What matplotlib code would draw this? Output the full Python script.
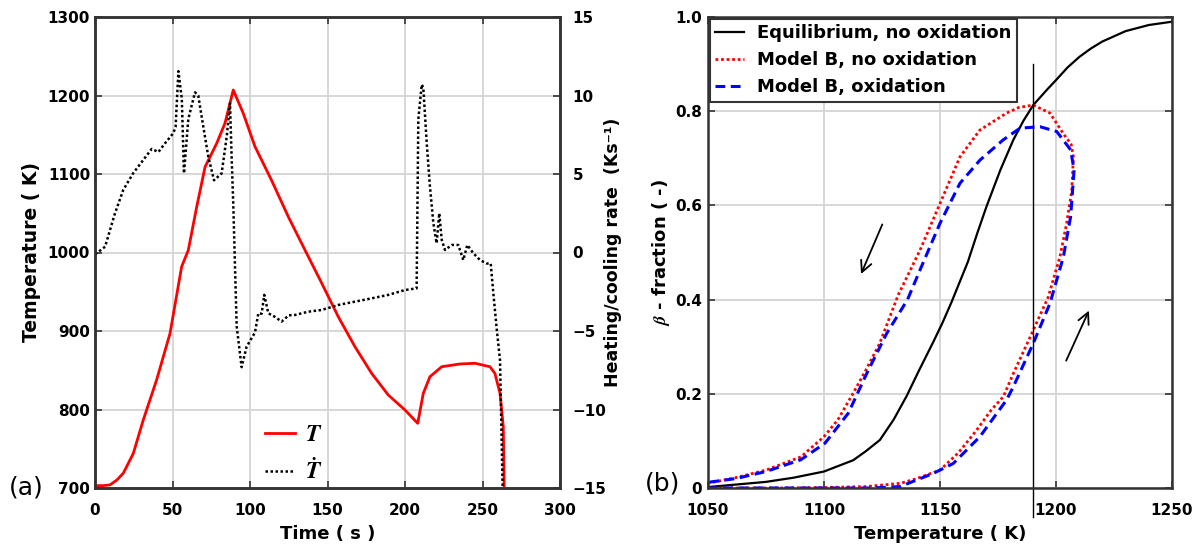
import matplotlib
matplotlib.use("Agg")
import matplotlib.pyplot as plt
from matplotlib.lines import Line2D

plt.rcParams['font.family'] = ['DejaVu Sans']
plt.rcParams['font.weight'] = 'bold'
plt.rcParams['mathtext.fontset'] = 'stix'

# ---------------- data: panel (a) ----------------
time_T = [0, 5, 9.7, 14, 18.3, 24.7, 31.2, 39.8, 48.4, 55.9, 60.2, 65.6, 71, 78.5, 83.9, 89.2,
          95.7, 103.2, 113.9, 124.7, 135.5, 146.3, 157, 167.7, 178.5, 189.2, 200, 208.2,
          211.8, 216.1, 223.7, 235.5, 245.2, 254.8, 258, 261.3, 263.4, 264]
temp_T = [703, 703, 704, 710, 719, 744, 787, 838, 897, 982, 1003, 1058, 1109, 1139, 1165, 1207,
          1177, 1135, 1092, 1045.6, 1003, 960.8, 918, 880, 846, 818.5, 799.4, 782.4,
          820.6, 841.8, 854.5, 858, 858.9, 854.5, 846, 820.6, 778, 700]

time_rate = [0, 1, 6.5, 12.9, 18.3, 24.7, 31.2, 36.6, 40.9, 45.2, 50.5, 52, 53.8, 56, 57.4, 60.2,
             64.5, 66.6, 69.9, 73.1, 76.8, 81.7, 85, 87.1, 88.2, 89.2, 91.4, 94.6, 97.8, 103.2,
             105.4, 107.5, 109.2, 111.8, 116.1, 120.4, 125, 129, 137.6, 146.3, 157, 167.7,
             178.5, 189.2, 200, 207.5, 208.6, 210.8, 211.8, 214, 216.1, 218.3, 220.4, 222.1,
             223.7, 225.8, 230.1, 234.4, 237.6, 240.2, 244.1, 248.4, 252.7, 255.3, 257, 259.2,
             261.3, 261.7, 263]
rate = [0, -0.05, 0.37, 2.5, 4.0, 5.06, 5.9, 6.6, 6.4, 6.96, 7.6, 8.0, 11.55, 9.8, 5.04, 8.5,
        10.2, 10.0, 8.0, 6.1, 4.6, 5.04, 7.4, 9.5, 5.9, 3.1, -4.7, -7.3, -6.0, -5.1,
        -3.87, -3.9, -2.7, -3.87, -4.1, -4.4, -4.0, -3.98, -3.77, -3.66, -3.34, -3.13,
        -2.92, -2.7, -2.39, -2.28, 8.5, 10.7, 10.5, 7.0, 4.2, 1.86, 0.59, 2.5,
        0.8, 0.16, 0.48, 0.48, -0.48, 0.48, -0.05, -0.48, -0.7, -0.7, -2.6, -4.9,
        -6.85, -8.8, -15]

# ---------------- data: panel (b) ----------------
eq_temp = [1050, 1075, 1087, 1100, 1112.6, 1118, 1124.1, 1130, 1135.6, 1141, 1147.1, 1151, 1155,
           1162, 1166, 1170, 1176, 1181.6, 1186, 1190.2, 1196, 1200, 1205, 1210, 1215, 1220,
           1230, 1240, 1250]
eq_beta = [0.002, 0.013, 0.022, 0.035, 0.059, 0.078, 0.102, 0.145, 0.195, 0.25, 0.31, 0.35,
           0.395, 0.48, 0.54, 0.597, 0.675, 0.739, 0.78, 0.813, 0.845, 0.866, 0.893, 0.915,
           0.933, 0.948, 0.970, 0.983, 0.990]

noox_temp = [1050, 1080, 1100, 1118, 1133, 1140, 1150, 1158, 1165.8, 1172, 1177.3, 1181.6, 1186,
             1190.2, 1196.7, 1201.7, 1204.6, 1206.8, 1207.5, 1206.5, 1203.2, 1197.4, 1190.2,
             1184, 1178.7, 1167.2, 1158.6, 1150, 1141.4, 1132, 1124, 1118, 1113, 1106, 1100,
             1090, 1075, 1062, 1050]
noox_beta = [0, 0, 0.001, 0.003, 0.01, 0.02, 0.038, 0.075, 0.123, 0.165, 0.194, 0.243, 0.29,
             0.335, 0.406, 0.491, 0.562, 0.632, 0.703, 0.73, 0.752, 0.796, 0.813,
             0.808, 0.796, 0.76, 0.703, 0.604, 0.505, 0.41, 0.307, 0.25, 0.205, 0.145, 0.109,
             0.066, 0.038, 0.022, 0.01]

ox_temp = [1050, 1120, 1132.8, 1147.1, 1155.7, 1167.2, 1178.7, 1181.6, 1190.2, 1197.4, 1203.2,
           1206.3, 1207.8, 1206.3, 1200.3, 1193.1, 1184.5, 1177.2, 1167.2, 1158.6, 1150, 1141.4,
           1136, 1127, 1118.4, 1110.5, 1100.4, 1090, 1075, 1062, 1050]
ox_beta = [0, 0, 0.003, 0.031, 0.052, 0.109, 0.187, 0.215, 0.307, 0.392, 0.491,
           0.576, 0.675, 0.718, 0.757, 0.767, 0.764, 0.739, 0.696, 0.647, 0.562, 0.463,
           0.40, 0.328, 0.243, 0.159, 0.095, 0.06, 0.035, 0.02, 0.012]

vline_temp = 1190
vline_span = [-0.062, 0.90]
arrow_cool = [(1125.6, 0.565), (1115.5, 0.449)]
arrow_heat = [(1203.9, 0.265), (1214.7, 0.382)]

legend_b = ['Equilibrium, no oxidation', 'Model B, no oxidation', 'Model B, oxidation']

W, H = 1199, 544
fig = plt.figure(figsize=(W / 100, H / 100), dpi=100)

spine_c = '#333333'
grid_c = '#d4d4d4'
tick_fs = 11
lab_fs = 13


def style(ax):
    for s in ax.spines.values():
        s.set_linewidth(1.8)
        s.set_color(spine_c)
    ax.tick_params(direction='in', length=5, width=1.2, color=spine_c, labelsize=tick_fs)
    ax.tick_params(axis='x', pad=11)


# ---------- panel (a) ----------
ax1 = fig.add_axes([95 / W, (H - 488) / H, 465 / W, 471 / H])
ax1.plot(time_T, temp_T, color='red', lw=2.0, zorder=3)
ax1.set_xlim(0, 300)
ax1.set_ylim(700, 1300)
ax1.set_xticks([0, 50, 100, 150, 200, 250, 300])
ax1.set_yticks([700, 800, 900, 1000, 1100, 1200, 1300])
ax1.grid(True, color=grid_c, lw=1.3)
ax1.set_axisbelow(True)
ax1.set_xlabel('Time ( s )', fontsize=lab_fs, fontweight='bold', labelpad=5)
ax1.set_ylabel('Temperature ( K)', fontsize=lab_fs + 0.5, fontweight='bold', labelpad=5)
style(ax1)
ax1.tick_params(top=True)

ax2 = ax1.twinx()
ax2.plot(time_rate, rate, color='black', lw=1.8, linestyle=(0, (1, 1)))
ax2.set_ylim(-15, 15)
ax2.set_yticks([-15, -10, -5, 0, 5, 10, 15])
ax2.set_ylabel('Heating/cooling rate  (Ks\u207b\u00b9)', fontsize=12.5, fontweight='bold',
               labelpad=-2)
style(ax2)
ax2.tick_params(axis='y', pad=9)

handles_a = [Line2D([], [], color='red', lw=2.0),
             Line2D([], [], color='black', lw=1.8, linestyle=(0, (1, 1)))]
leg_a = ax2.legend(handles_a, [r'$T$', r'$\dot{T}$'], loc='upper left',
                   bbox_to_anchor=(0.365, 0.14), frameon=False, fontsize=17,
                   handlelength=1.3, handletextpad=0.4, labelspacing=0.5,
                   borderpad=0, borderaxespad=0)

fig.text(9 / W, (H - 487) / H, '(a)', fontsize=18, fontweight='normal', va='center', ha='left')

# ---------- panel (b) ----------
ax3 = fig.add_axes([708 / W, (H - 488) / H, 464 / W, 471 / H])
l1, = ax3.plot(eq_temp, eq_beta, color='black', lw=1.6)
l2, = ax3.plot(noox_temp, noox_beta, color='red', lw=2.0, linestyle=(0, (1, 1)))
l3, = ax3.plot(ox_temp, ox_beta, color='blue', lw=2.2, linestyle=(0, (3.2, 1.8)))
ax3.plot([vline_temp, vline_temp], vline_span, color='black', lw=1.0, clip_on=False)
ax3.annotate('', xy=arrow_cool[1], xytext=arrow_cool[0],
             arrowprops=dict(arrowstyle='->', lw=1.3, color='black', mutation_scale=20))
ax3.annotate('', xy=arrow_heat[1], xytext=arrow_heat[0],
             arrowprops=dict(arrowstyle='->', lw=1.3, color='black', mutation_scale=20))
ax3.set_xlim(1050, 1250)
ax3.set_ylim(0, 1.0)
ax3.set_xticks([1050, 1100, 1150, 1200, 1250])
ax3.set_yticks([0, 0.2, 0.4, 0.6, 0.8, 1.0])
ax3.set_yticklabels(['0', '0.2', '0.4', '0.6', '0.8', '1.0'])
ax3.grid(True, color=grid_c, lw=1.3)
ax3.set_axisbelow(True)
ax3.set_xlabel('Temperature ( K)', fontsize=lab_fs, fontweight='bold', labelpad=5)
ax3.set_ylabel(r'$\beta$ - fraction ( -)', fontsize=lab_fs, fontweight='bold', labelpad=2)
style(ax3)
ax3.tick_params(top=True, right=True)
ax3.tick_params(axis='y', pad=4.5)

leg_b = ax3.legend([l1, l2, l3], legend_b, loc='upper left',
                   prop={'weight': 'bold', 'size': 13}, frameon=True, fancybox=False,
                   framealpha=1, edgecolor=spine_c, handlelength=1.6, handletextpad=0.7,
                   labelspacing=0.5, borderaxespad=0.1, borderpad=0.3)
leg_b.get_frame().set_linewidth(1.5)

fig.text(645 / W, (H - 483) / H, '(b)', fontsize=18, fontweight='normal', va='center', ha='left')

fig.savefig('out.png', dpi=100)
